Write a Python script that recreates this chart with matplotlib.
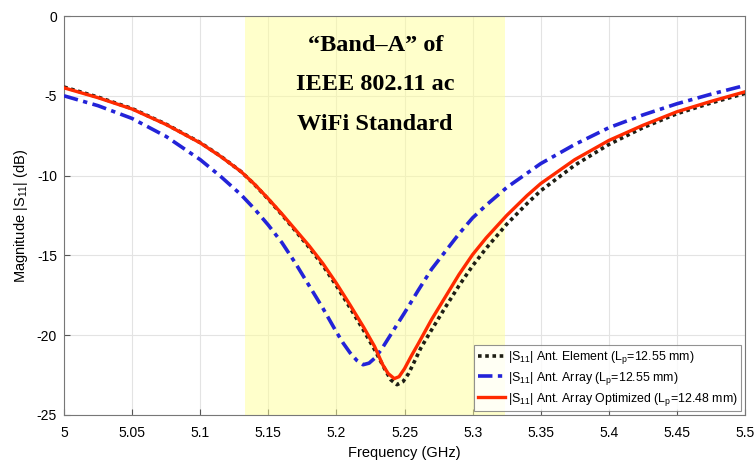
import matplotlib
matplotlib.use("Agg")
import matplotlib.pyplot as plt

plt.rcParams['font.family'] = ['Liberation Sans', 'DejaVu Sans']
plt.rcParams['mathtext.fontset'] = 'custom'
plt.rcParams['mathtext.rm'] = 'Liberation Sans'
plt.rcParams['mathtext.it'] = 'Liberation Sans:italic'
plt.rcParams['mathtext.bf'] = 'Liberation Sans:bold'
plt.rcParams['axes.unicode_minus'] = False

# --- data ---
freq_element = [5.000, 5.025, 5.050, 5.075, 5.100, 5.115, 5.130, 5.140, 5.150, 5.160,
                5.170, 5.180, 5.190, 5.200, 5.210, 5.220, 5.228, 5.232, 5.236, 5.240,
                5.2445, 5.249, 5.253, 5.257, 5.262, 5.270, 5.280, 5.290, 5.300, 5.310,
                5.325, 5.340, 5.350, 5.375, 5.400, 5.425, 5.450, 5.475, 5.500]
s11_element = [-4.45, -5.08, -5.80, -6.78, -7.93, -8.78, -9.75, -10.57, -11.48, -12.45,
               -13.47, -14.50, -15.62, -16.90, -18.28, -19.70, -20.90, -21.55, -22.20, -22.80,
               -23.10, -22.90, -22.40, -21.70, -20.80, -19.65, -18.25, -16.90, -15.65, -14.55,
               -13.05, -11.75, -10.95, -9.35, -8.05, -7.00, -6.12, -5.45, -4.85]

freq_array = [5.000, 5.025, 5.050, 5.075, 5.100, 5.115, 5.130, 5.140, 5.150, 5.160,
              5.170, 5.180, 5.190, 5.200, 5.205, 5.210, 5.215, 5.2196, 5.224, 5.228,
              5.233, 5.240, 5.250, 5.260, 5.270, 5.280, 5.290, 5.300, 5.310, 5.325,
              5.340, 5.350, 5.375, 5.400, 5.425, 5.450, 5.475, 5.500]
s11_array = [-5.00, -5.62, -6.42, -7.55, -9.00, -10.05, -11.20, -12.10, -13.10, -14.20,
             -15.50, -16.90, -18.30, -19.80, -20.50, -21.10, -21.58, -21.85, -21.75, -21.45,
             -20.90, -19.95, -18.60, -17.20, -15.85, -14.75, -13.65, -12.65, -11.85, -10.75,
             -9.85, -9.25, -8.05, -7.00, -6.20, -5.50, -4.90, -4.35]

freq_opt = [5.000, 5.025, 5.050, 5.075, 5.100, 5.115, 5.130, 5.140, 5.150, 5.160,
            5.170, 5.180, 5.190, 5.200, 5.210, 5.220, 5.228, 5.234, 5.238, 5.2425,
            5.246, 5.250, 5.255, 5.260, 5.270, 5.280, 5.290, 5.300, 5.310, 5.325,
            5.340, 5.350, 5.375, 5.400, 5.425, 5.450, 5.475, 5.500]
s11_opt = [-4.50, -5.12, -5.83, -6.80, -7.95, -8.80, -9.75, -10.55, -11.45, -12.40,
           -13.40, -14.40, -15.50, -16.75, -18.10, -19.50, -20.70, -21.85, -22.40, -22.72,
           -22.60, -22.10, -21.30, -20.55, -19.00, -17.60, -16.20, -14.95, -13.90, -12.50,
           -11.25, -10.50, -9.00, -7.80, -6.85, -6.00, -5.35, -4.75]

band_a = [5.133, 5.324]
x_ticks = [5.0, 5.05, 5.1, 5.15, 5.2, 5.25, 5.3, 5.35, 5.4, 5.45, 5.5]
x_tick_labels = ['5', '5.05', '5.1', '5.15', '5.2', '5.25', '5.3', '5.35', '5.4', '5.45', '5.5']
y_ticks = [-25, -20, -15, -10, -5, 0]

labels = [r'|S$_{11}$| Ant. Element (L$_{\mathrm{p}}$=12.55 mm)',
          r'|S$_{11}$| Ant. Array (L$_{\mathrm{p}}$=12.55 mm)',
          r'|S$_{11}$| Ant. Array Optimized (L$_{\mathrm{p}}$=12.48 mm)']

fig = plt.figure(figsize=(7.54, 4.66), dpi=100)
ax = fig.add_axes([64 / 754, 1 - 415 / 466, (745 - 64) / 754, (415 - 16) / 466])

ax.axvspan(band_a[0], band_a[1], color='#ffff99', alpha=0.5, lw=0, zorder=1)

ax.plot(freq_element, s11_element, color='#1e1e14', lw=2.6, ls=(0, (1, 1)),
        label=labels[0], zorder=3, solid_joinstyle='round')
ax.plot(freq_array, s11_array, color='#2323d8', lw=2.6, ls=(0, (4, 1.5, 1.2, 1.5)),
        label=labels[1], zorder=4)
ax.plot(freq_opt, s11_opt, color='#ff2a00', lw=2.4, ls='-', label=labels[2], zorder=5,
        solid_joinstyle='round')

ax.set_xlim(5.0, 5.5)
ax.set_ylim(-25, 0)
ax.set_xticks(x_ticks)
ax.set_xticklabels(x_tick_labels)
ax.set_yticks(y_ticks)
ax.grid(True, color='#e3e3e3', lw=0.8)
ax.set_axisbelow(True)
ax.tick_params(direction='in', length=4, color='#555555', labelsize=10)
ax.tick_params(axis='x', pad=8)
ax.tick_params(axis='y', pad=5)
for sp in ax.spines.values():
    sp.set_color('#777777')
    sp.set_linewidth(0.8)

ax.set_xlabel('Frequency (GHz)', fontsize=10.5, labelpad=4)
ax.set_ylabel(r'Magnitude |S$_{11}$| (dB)', fontsize=10.5, labelpad=5)

ax.text(sum(band_a) / 2, -4.32, '\u201cBand\u2013A\u201d of\nIEEE 802.11 ac\nWiFi Standard',
        ha='center', va='center', fontsize=17.5, fontweight='bold',
        family=['Liberation Serif', 'DejaVu Serif'], linespacing=2.15, zorder=6)

leg = ax.legend(loc='lower right', fontsize=8.9, frameon=True, fancybox=False,
                edgecolor='#777777', borderpad=0.3, labelspacing=0.3,
                handlelength=2.2, handletextpad=0.2, borderaxespad=0.3)
leg.get_frame().set_linewidth(0.8)

fig.savefig('out.png', dpi=100)
